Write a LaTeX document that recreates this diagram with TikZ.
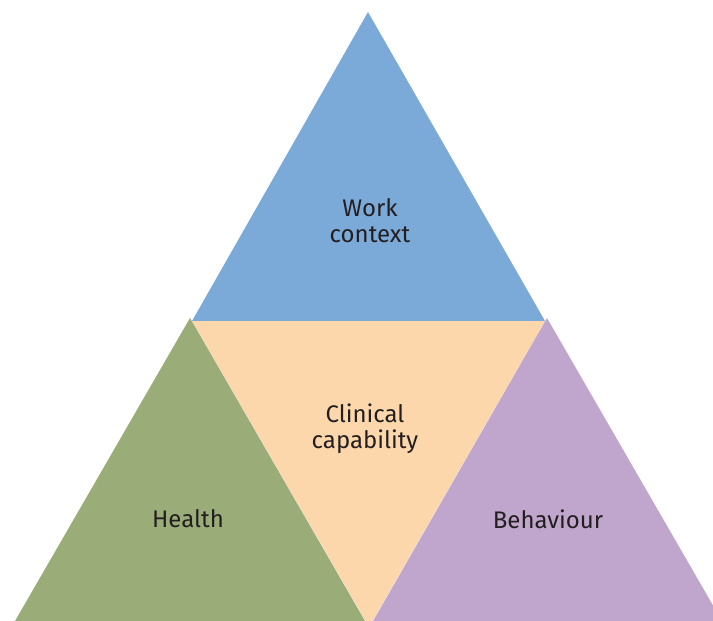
\documentclass[tikz,border=0pt]{standalone}
\usepackage{fontspec}
\setmainfont{Fira Sans}
\usetikzlibrary{calc}
\definecolor{txtgray}{HTML}{231F20}
\definecolor{workblue}{HTML}{7BAAD9}
\definecolor{clinorange}{HTML}{FBD7AB}
\definecolor{healthgreen}{HTML}{9AAC77}
\definecolor{behavpurple}{HTML}{C0A5CC}
\tikzset{every node/.style={font=\fontsize{24}{26}\selectfont, text=txtgray, align=center}}

\begin{document}
\begin{tikzpicture}[x=1pt, y=-1pt]

\useasboundingbox (0,0) rectangle (713,621);

% 定义点
\coordinate (PA) at (368, 12);    % top apex
\coordinate (PL) at (192, 321);
\coordinate (PR) at (545, 321);
\coordinate (PB) at (369, 627);   % bottom of the middle triangle

\coordinate (GA) at (190, 318);
\coordinate (GL) at (15, 621);
\coordinate (GR) at (365, 621);

\coordinate (VA) at (547, 318);
\coordinate (VL) at (373, 621);
\coordinate (VR) at (722, 621);

\begin{scope}
\clip (0,0) rectangle (713,621);

\fill[workblue] (PA) -- (PL) -- (PR) -- cycle;
\fill[clinorange] (PL) -- (PR) -- (PB) -- cycle;

\fill[healthgreen] (GA) -- (GL) -- (GR) -- cycle;
\fill[behavpurple] (VA) -- (VL) -- (VR) -- cycle;

\end{scope}

% 文字
\node (work) at (370, 221) {Work\\context};
\node (clin) at (365, 429) {Clinical\\capability};
\node (health) at (188, 519) {Health};
\node (behav) at (548, 519) {Behaviour};

\end{tikzpicture}
\end{document}
